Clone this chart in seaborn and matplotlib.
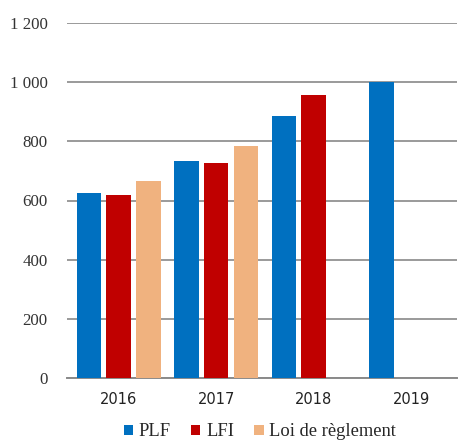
import matplotlib
matplotlib.use("Agg")
import matplotlib.pyplot as plt
import seaborn as sns
import pandas as pd
import numpy as np
from matplotlib.patches import Patch

years = ["2016", "2017", "2018", "2019"]
series = ["PLF", "LFI", "Loi de règlement"]
plf = [625, 734, 886, 1000]
lfi = [619, 727, 957, np.nan]
loi = [666, 784, np.nan, np.nan]
yticks = [0, 200, 400, 600, 800, 1000, 1200]
ytick_labels = ["0", "200", "400", "600", "800", "1 000", "1 200"]
colors = ["#0070C0", "#C00000", "#F0B27F"]

df = pd.DataFrame({
    "year": years * 3,
    "series": [series[0]] * 4 + [series[1]] * 4 + [series[2]] * 4,
    "value": plf + lfi + loi,
})

sns.set_style("white")
fig = plt.figure(figsize=(4.59, 4.46), dpi=100)
ax = fig.add_axes([67 / 459, 68 / 446, 390 / 459, 355 / 446])

sns.barplot(data=df, x="year", y="value", hue="series", hue_order=series,
            palette=colors, width=0.92, gap=0.18, ax=ax, legend=False,
            saturation=1, zorder=3, linewidth=0, edgecolor="none")

ax.set_ylim(0, 1200)
ax.set_xlim(-0.53, 3.47)
ax.set_yticks(yticks)
ax.set_yticklabels(ytick_labels, family="Liberation Serif", fontsize=12.2, color="#333333")
for lab in ax.get_xticklabels():
    lab.set_family("DejaVu Sans")
    lab.set_fontsize(10.5)
    lab.set_color("#222222")
ax.grid(axis="y", color="#9a9a9a", linewidth=1.4, zorder=0)
for s in ["top", "right", "left"]:
    ax.spines[s].set_visible(False)
ax.spines["bottom"].set_color("#8a8a8a")
ax.spines["bottom"].set_linewidth(1.4)
ax.tick_params(axis="y", length=0, pad=14)
ax.tick_params(axis="x", length=0, pad=10)
ax.set_xlabel("")
ax.set_ylabel("")

handles = [Patch(facecolor=c, edgecolor="none") for c in colors]
fig.legend(handles, series, loc="center", bbox_to_anchor=(260 / 459, 1 - 432 / 446),
           ncol=3, frameon=False, prop={"family": "Liberation Serif", "size": 13.3},
           handlelength=0.5, handleheight=0.5, handletextpad=0.3, columnspacing=1.1)

fig.savefig("out.png", dpi=100)
